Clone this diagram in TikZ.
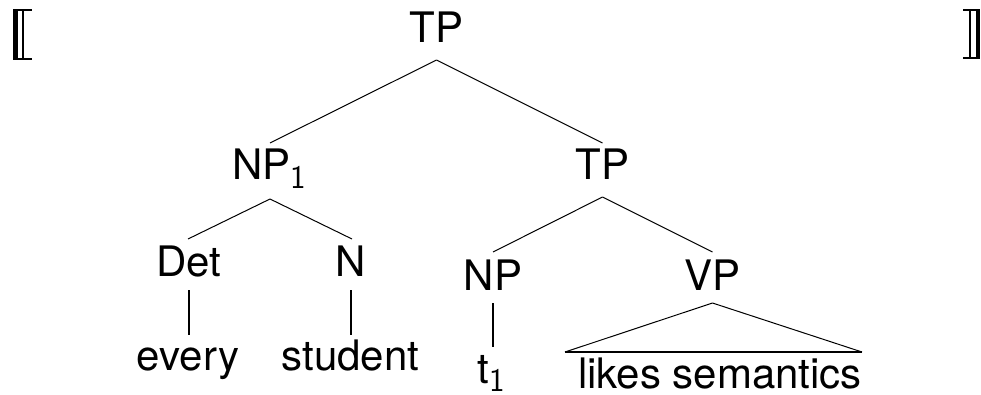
\documentclass[tikz,border=0pt]{standalone}
\usepackage{fontspec}
\setmainfont{TeX Gyre Heros}
\newcommand{\subone}{\raisebox{-8.5pt}{\sffamily\fontsize{33}{33}\selectfont 1}}
\begin{document}
\begin{tikzpicture}[x=1pt,y=-1pt,
  lab/.style={inner sep=0pt, anchor=base, font=\fontsize{42}{50}\selectfont},
  edge/.style={line width=1pt},
  stem/.style={line width=1.6pt},
  brk/.style={fill=black, draw=none}]
\useasboundingbox (0,0) rectangle (981,395);
% brackets
\fill[brk] (13,9) rectangle (17.5,60);
\fill[brk] (22,11) rectangle (24.2,58);
\fill[brk] (13,9) rectangle (32,11.3);
\fill[brk] (13,57.7) rectangle (32,60);
\fill[brk] (975.5,9) rectangle (980,59);
\fill[brk] (968.5,11) rectangle (970.7,57);
\fill[brk] (963,9) rectangle (980,11.3);
\fill[brk] (963,56.7) rectangle (980,59);
% nodes
\node[lab] (tp1) at (436.5,43) {TP};
\node[lab] (np1) at (269.5,180) {NP\subone};
\node[lab] (tp2) at (602.5,180) {TP};
\node[lab] (det) at (189,276) {Det};
\node[lab] (n) at (351,276) {N};
\node[lab] (np) at (493,290) {NP};
\node[lab] (vp) at (712.5,290) {VP};
\node[lab] (every) at (188,370) {every};
\node[lab] (student) at (350.5,370) {student};
\node[lab] (t1) at (491,383) {t\subone};
\node[lab] (likes) at (720,388) {likes semantics};
% edges
\draw[edge] ([yshift=-17pt]tp1.base) -- ([yshift=37pt,xshift=0.5pt]np1.base);
\draw[edge] ([yshift=-17pt]tp1.base) -- ([yshift=37pt]tp2.base);
\draw[edge] ([yshift=-19pt,xshift=0.5pt]np1.base) -- ([yshift=37pt,xshift=-1pt]det.base);
\draw[edge] ([yshift=-19pt,xshift=0.5pt]np1.base) -- ([yshift=37pt,xshift=1pt]n.base);
\draw[edge] ([yshift=-17pt]tp2.base) -- ([yshift=38pt]np.base);
\draw[edge] ([yshift=-17pt]tp2.base) -- ([yshift=38pt]vp.base);
\draw[stem] ([yshift=-14pt]det.base) -- ([yshift=35pt,xshift=1pt]every.base);
\draw[stem] ([yshift=-14pt]n.base) -- ([yshift=35pt,xshift=0.5pt]student.base);
\draw[stem] ([yshift=-13pt]np.base) -- ([yshift=36pt,xshift=2pt]t1.base);
\draw[edge, line join=round] ([xshift=-155pt,yshift=36pt]likes.base) -- ([yshift=-13pt]vp.base) -- ([xshift=142pt,yshift=36pt]likes.base);
\draw[stem] ([xshift=-155pt,yshift=36pt]likes.base) -- ([xshift=142pt,yshift=36pt]likes.base);
\end{tikzpicture}
\end{document}
